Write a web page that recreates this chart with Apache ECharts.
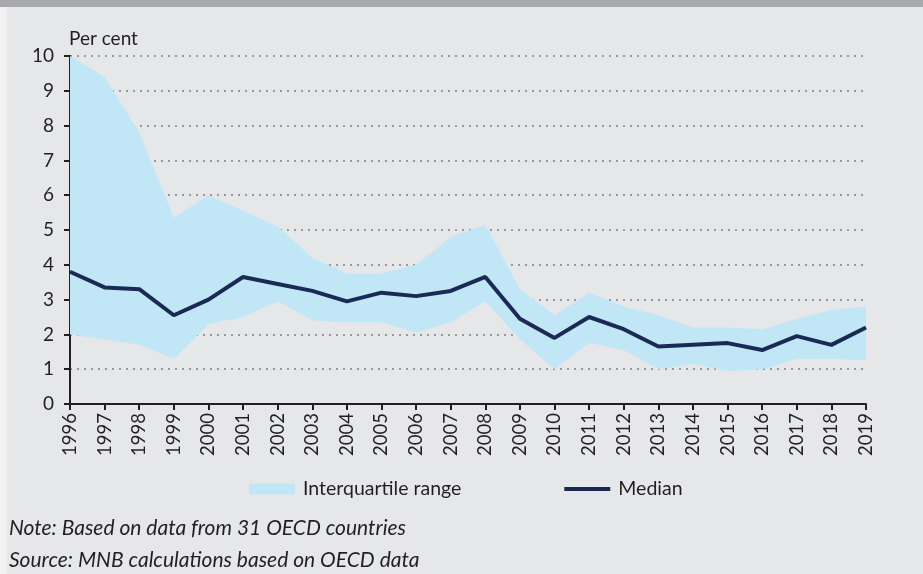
<!DOCTYPE html>
<html>
<head>
<meta charset="utf-8">
<script src="https://cdn.jsdelivr.net/npm/echarts@6/dist/echarts.min.js"></script>
<style>
  html, body { margin: 0; padding: 0; background: #e6e7e9; }
  .wrap { position: relative; width: 923px; height: 574px; background: #e6e7e9; overflow: hidden; }
  .leftStrip { position: absolute; left: 0; top: 0; width: 7px; height: 574px; background: #f1f1f2; }
  .topBar { position: absolute; left: 0; top: 0; width: 923px; height: 7px; background: #a7a9ac; }
  .chartContent { position: absolute; left: 0; top: 0; width: 923px; height: 574px; }
  .note { position: absolute; left: 9px; font-family: Lato, sans-serif; font-style: italic; font-size: 21px; line-height: 24px; color: #231f20; }
</style>
</head>
<body>
<div class="wrap">
  <div class="leftStrip"></div>
  <div class="topBar"></div>
  <div class="chartContent" id="chart"></div>
  <div class="note" style="top:515px">Note: Based on data from 31 OECD countries</div>
  <div class="note" style="top:547px">Source: MNB calculations based on OECD data</div>
</div>
<script>
  const years = ['1996','1997','1998','1999','2000','2001','2002','2003','2004','2005','2006','2007',
    '2008','2009','2010','2011','2012','2013','2014','2015','2016','2017','2018','2019'];
  const lowerQuartile = [2.0,1.85,1.7,1.3,2.3,2.5,2.95,2.4,2.35,2.35,2.05,2.35,
    2.95,1.85,1.0,1.75,1.55,1.0,1.15,0.95,1.0,1.3,1.3,1.25];
  const upperQuartile = [10.0,9.4,7.8,5.35,6.0,5.55,5.1,4.2,3.75,3.75,4.0,4.8,
    5.15,3.3,2.55,3.2,2.8,2.55,2.2,2.2,2.15,2.45,2.7,2.8];
  const median = [3.8,3.35,3.3,2.55,3.0,3.65,3.45,3.25,2.95,3.2,3.1,3.25,
    3.65,2.45,1.9,2.5,2.15,1.65,1.7,1.75,1.55,1.95,1.7,2.2];
  const yTicks = [0,1,2,3,4,5,6,7,8,9,10];

  const rangeWidth = upperQuartile.map((u, i) => +(u - lowerQuartile[i]).toFixed(2));

  const font = 'Lato, sans-serif';
  const chart = echarts.init(document.getElementById('chart'));
  chart.setOption({
    animation: false,
    textStyle: { fontFamily: font, color: '#231f20' },
    grid: { left: 70, right: 57, top: 56, bottom: 170 },
    legend: {
      left: 244,
      top: 474,
      itemWidth: 46,
      itemHeight: 11,
      itemGap: 103,
      textStyle: { fontSize: 19.5, color: '#231f20', fontFamily: font, padding: [0, 0, 0, 3] },
      data: [
        { name: 'Interquartile range', icon: 'rect' },
        { name: 'Median', icon: 'path://M0,0h46v4h-46z' }
      ]
    },
    xAxis: {
      type: 'category',
      data: years,
      boundaryGap: false,
      axisLine: { lineStyle: { color: '#231f20', width: 2 } },
      axisTick: { alignWithLabel: true, length: 6, lineStyle: { color: '#231f20', width: 2 } },
      axisLabel: { rotate: 90, fontSize: 18.5, color: '#231f20', margin: 9, interval: 0 }
    },
    yAxis: {
      type: 'value',
      min: 0,
      max: yTicks[yTicks.length - 1],
      interval: 1,
      name: 'Per cent',
      nameLocation: 'end',
      nameGap: 8,
      nameTextStyle: { align: 'left', fontSize: 19, color: '#231f20', padding: [0, 0, 0, -1] },
      axisLine: { show: true, lineStyle: { color: '#231f20', width: 2 } },
      axisTick: { show: true, length: 6, lineStyle: { color: '#231f20', width: 2 } },
      axisLabel: { fontSize: 19, color: '#231f20', margin: 16 },
      splitLine: { show: true, lineStyle: { color: '#7f7f7f', type: [2, 5], width: 1.5 } }
    },
    series: [
      {
        name: 'lower',
        type: 'line',
        stack: 'iqr',
        data: lowerQuartile,
        symbol: 'none',
        lineStyle: { opacity: 0 },
        silent: true,
        z: 1
      },
      {
        name: 'Interquartile range',
        type: 'line',
        stack: 'iqr',
        data: rangeWidth,
        symbol: 'none',
        lineStyle: { opacity: 0 },
        itemStyle: { color: '#c1e6f6' },
        areaStyle: { color: '#c1e6f6', opacity: 1 },
        z: 1
      },
      {
        name: 'Median',
        type: 'line',
        data: median,
        symbol: 'none',
        itemStyle: { color: '#1a2a55' },
        lineStyle: { color: '#1a2a55', width: 4 },
        z: 3
      }
    ]
  });
</script>
</body>
</html>
